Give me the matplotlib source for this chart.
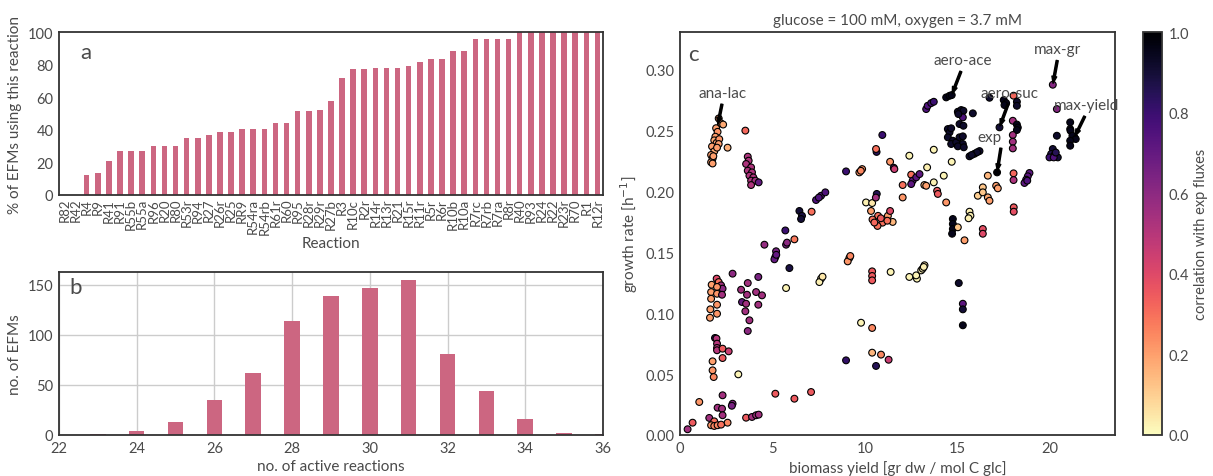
import matplotlib
matplotlib.use("Agg")
import matplotlib.pyplot as plt
import numpy as np

plt.rcParams['font.family'] = ['Lato', 'DejaVu Sans']
plt.rcParams['mathtext.fontset'] = 'dejavusans'

TXT = '#4a4a4a'
SPINE = '#333333'
BAR = '#cc6681'

# ---- panel a: fraction of EFMs using each reaction ----
reactions = ['R82', 'R42', 'R4', 'R9', 'R41', 'R91', 'R55b', 'R55a', 'R96', 'R20',
             'R80', 'R53r', 'R94', 'R27', 'R26r', 'R25', 'RR9', 'R54ra', 'R54rb',
             'R61r', 'R60', 'R95', 'R28r', 'R29r', 'R27b', 'R3', 'R10c', 'R2r',
             'R14r', 'R13r', 'R21', 'R15r', 'R11r', 'R5r', 'R6r', 'R10b', 'R10a',
             'R7rc', 'R7rb', 'R7ra', 'R8r', 'R40', 'R93', 'R24', 'R22', 'R23r',
             'R70', 'R1', 'R12r']
pct_efms = [0, 0, 12.3, 13.4, 20.8, 27.0, 27.0, 27.0, 30.2, 30.2,
            30.2, 35.1, 35.1, 37.0, 38.7, 38.7, 40.6, 40.6, 40.6,
            44.2, 44.2, 51.5, 51.5, 52.3, 57.8, 71.9, 77.4, 77.4,
            78.0, 78.0, 78.0, 79.2, 81.6, 83.6, 83.6, 88.5, 88.5,
            95.9, 95.9, 95.9, 95.9, 100, 100, 100, 100, 100,
            100, 100, 100]

# ---- panel b: histogram of EFM sizes ----
n_active = [23, 24, 25, 26, 27, 28, 29, 30, 31, 32, 33, 34, 35, 36]
n_efms = [1, 4, 13, 35, 62, 114, 139, 147, 155, 81, 44, 16, 2, 1]

# ---- panel c: yield vs growth rate, coloured by correlation ----
yield_x = [
    2.09, 2.21, 2.33, 1.95, 2.03, 1.91, 1.85, 1.98, 2.12, 2.09, 1.73, 1.85, 1.68, 1.76, 1.68, 1.76, 2.00, 1.80,
    2.57, 3.53,
    3.66, 3.71, 3.57, 3.84, 3.66, 3.89, 3.75, 3.96, 3.84, 4.07, 4.25, 3.84,
    10.93, 10.62, 10.59, 11.35, 11.55, 11.58, 8.97, 9.69, 9.84, 9.77,
    7.35, 7.62, 7.85, 7.50, 6.45, 6.59, 6.54, 7.11, 5.69,
    10.05, 10.38, 10.63, 10.58, 10.32, 10.70, 10.40, 11.23, 11.35, 11.49, 10.94, 10.67, 11.20, 10.50, 10.85,
    14.38, 14.56, 14.68, 13.30, 13.38, 13.57, 13.71,
    15.01, 15.19, 15.31, 15.28, 15.04, 15.82, 15.10, 15.31, 14.47, 14.56, 14.65, 14.47, 14.74, 14.65,
    14.92, 15.10, 15.28, 15.28, 15.01, 15.33, 15.64, 15.91, 16.18, 16.05, 15.76,
    16.72, 17.49, 17.62, 17.53, 18.02, 18.20, 18.20, 17.26,
    17.98, 18.20, 18.25, 18.20, 17.98, 17.98, 17.98,
    20.14, 20.36,
    21.08, 21.08, 21.10, 21.31, 21.20, 21.38, 21.08, 21.08, 20.36,
    20.14, 20.05, 20.23, 20.41, 19.96, 20.19, 20.30,
    17.13, 16.63, 17.08, 17.17, 16.36, 16.09, 16.36, 16.63, 16.72,
    18.02, 18.02, 18.88, 18.79, 18.70, 18.61, 18.76,
    13.71, 12.39, 14.68, 13.35, 14.25, 13.71,
    12.49, 12.03, 12.03, 13.20, 13.30, 13.89, 13.93, 14.38,
    12.57, 12.76, 12.94, 12.49,
    15.64, 15.69, 15.59, 14.74, 14.74, 14.74, 15.01, 16.36, 18.03, 18.03,
    14.70, 15.37, 16.36,
    12.39, 12.80, 12.76, 13.03, 13.11, 13.21, 13.17,
    15.06, 15.28, 15.28, 15.28,
    6.18, 5.73, 5.78, 4.56, 5.19, 5.15, 5.10, 5.20,
    9.15, 9.06, 9.20, 5.91, 10.38, 10.38, 10.38, 11.38, 7.62, 7.53, 7.70, 5.73,
    2.84, 4.23, 3.66, 3.30, 4.11, 4.43, 3.62, 3.35, 3.57, 4.23, 3.53, 3.75, 3.66,
    1.71, 1.98, 2.09, 2.22, 2.30, 2.00, 1.68, 2.00, 2.27, 1.68, 2.00, 1.64, 2.00, 1.62,
    1.89, 1.97, 2.00, 2.00, 2.00, 2.30, 2.63, 2.30,
    1.76, 1.76, 1.82, 3.15, 8.97,
    9.78, 10.38, 10.38, 10.86, 11.27, 10.59,
    5.15, 6.18, 7.08,
    1.04, 2.30, 2.84, 2.80, 2.03, 2.27, 1.58, 2.30, 1.85, 2.57, 1.68, 1.85, 2.03, 2.22,
    3.57, 3.89, 4.11, 4.25, 0.68, 0.41,
]
growth_y = [
    0.260, 0.256, 0.255, 0.252, 0.249, 0.245, 0.242, 0.240, 0.243, 0.239, 0.237, 0.233, 0.230, 0.227, 0.224, 0.223, 0.236, 0.229,
    0.236, 0.250,
    0.2286, 0.2253, 0.2226, 0.2198, 0.2171, 0.2157, 0.2130, 0.2116, 0.2089, 0.2089, 0.2075, 0.2053,
    0.2464, 0.2325, 0.2349, 0.2244, 0.2195, 0.2184, 0.2165, 0.2157, 0.2184, 0.2170,
    0.1930, 0.1965, 0.1993, 0.1950, 0.1840, 0.1800, 0.1774, 0.1834, 0.1680,
    0.1910, 0.1905, 0.1980, 0.1950, 0.1840, 0.1800, 0.1770, 0.1800, 0.1840, 0.1750, 0.1744, 0.1717, 0.1760, 0.1745, 0.1780,
    0.2773, 0.2786, 0.2792, 0.2677, 0.2704, 0.2726, 0.2737,
    0.2655, 0.2669, 0.2663, 0.2609, 0.2636, 0.2642, 0.2554, 0.2540, 0.2513, 0.2486, 0.2519, 0.2445, 0.2417, 0.2390,
    0.2404, 0.2445, 0.2453, 0.2390, 0.2371, 0.2363, 0.2289, 0.2310, 0.2332, 0.2322, 0.2300,
    0.2770, 0.2751, 0.2726, 0.2710, 0.2787, 0.2737, 0.2704, 0.2527,
    0.2581, 0.2550, 0.2525, 0.2505, 0.2464, 0.2409, 0.2354,
    0.2877, 0.2677,
    0.2568, 0.2513, 0.2499, 0.2445, 0.2458, 0.2431, 0.2417, 0.2376, 0.2458,
    0.2349, 0.2308, 0.2299, 0.2280, 0.2280, 0.2280, 0.2320,
    0.2157, 0.2130, 0.2047, 0.2026, 0.2034, 0.1965, 0.1993, 0.1952, 0.1924,
    0.2149, 0.2094, 0.2152, 0.2125, 0.2097, 0.2070, 0.2089,
    0.2343, 0.2294, 0.2244, 0.2198, 0.2130, 0.2075,
    0.2138, 0.2053, 0.1951, 0.2053, 0.2047, 0.2006, 0.1980, 0.1910,
    0.2089, 0.2116, 0.2143, 0.2061,
    0.1834, 0.1801, 0.1780, 0.1774, 0.1733, 0.1692, 0.1706, 0.1692, 0.1870, 0.1834,
    0.1653, 0.1599, 0.1653,
    0.1298, 0.1284, 0.1311, 0.1352, 0.1366, 0.1394, 0.1380,
    0.1248, 0.1078, 0.1032, 0.0901,
    0.1607, 0.1563, 0.1580, 0.1563, 0.1509, 0.1462, 0.1443, 0.1480,
    0.1454, 0.1426, 0.1470, 0.1371, 0.1344, 0.1306, 0.1270, 0.1339, 0.1284, 0.1256, 0.1300, 0.1207,
    0.1325, 0.1298, 0.1248, 0.1193, 0.1174, 0.1147, 0.1152, 0.1092, 0.1078, 0.1070, 0.1016, 0.0942, 0.0854,
    0.1234, 0.1284, 0.1256, 0.1229, 0.1202, 0.1216, 0.1174, 0.1160, 0.1152, 0.1119, 0.1070, 0.1032, 0.0996, 0.0963,
    0.0797, 0.0792, 0.0750, 0.0715, 0.0696, 0.0709, 0.0687, 0.0632,
    0.0605, 0.0531, 0.0476, 0.0498, 0.0613,
    0.0922, 0.0879, 0.0676, 0.0660, 0.0618, 0.0567,
    0.0339, 0.0298, 0.0353,
    0.0271, 0.0326, 0.0257, 0.0240, 0.0224, 0.0216, 0.0140, 0.0162, 0.0112, 0.0101, 0.0080, 0.0074, 0.0080, 0.0085,
    0.0142, 0.0148, 0.0162, 0.0167, 0.0101, 0.0047,
]
correlation = [
    0.22, 0.20, 0.18, 0.20, 0.22, 0.20, 0.18, 0.20, 0.22, 0.20, 0.20, 0.18, 0.20, 0.20, 0.20, 0.20, 0.20, 0.20,
    0.17, 0.32,
    0.52, 0.52, 0.52, 0.52, 0.52, 0.52, 0.52, 0.52, 0.52, 0.55, 0.70, 0.52,
    0.80, 0.85, 0.30, 0.22, 0.70, 0.45, 0.80, 0.22, 0.22, 0.25,
    0.75, 0.75, 0.75, 0.75, 0.90, 0.88, 0.90, 0.30, 0.80,
    0.03, 0.05, 0.85, 0.55, 0.20, 0.30, 0.30, 0.20, 0.40, 0.15, 0.30, 0.30, 0.30, 0.32, 0.35,
    0.95, 0.95, 0.95, 0.75, 0.75, 0.78, 0.80,
    0.92, 0.92, 0.92, 0.75, 0.92, 0.92, 0.92, 0.92, 0.92, 0.92, 0.92, 0.92, 0.92, 0.92,
    0.92, 0.92, 0.92, 0.92, 0.92, 0.92, 0.92, 0.92, 0.92, 0.92, 0.92,
    0.92, 0.95, 0.95, 0.95, 0.32, 0.92, 0.92, 0.90,
    0.55, 0.95, 0.95, 0.95, 0.55, 0.55, 0.55,
    0.62, 0.62,
    0.95, 0.95, 0.95, 0.95, 0.95, 0.95, 0.95, 0.95, 0.92,
    0.90, 0.85, 0.75, 0.90, 0.80, 0.75, 0.85,
    1.00, 0.15, 0.20, 0.20, 0.12, 0.10, 0.12, 0.18, 0.20,
    0.32, 0.52, 0.72, 0.72, 0.72, 0.72, 0.75,
    0.02, 0.02, 0.02, 0.03, 0.02, 0.03,
    0.30, 0.30, 0.22, 0.15, 0.20, 0.35, 0.35, 0.22,
    0.72, 0.72, 0.72, 0.72,
    0.03, 0.03, 0.03, 0.95, 0.95, 0.95, 0.12, 0.38, 0.35, 0.38,
    0.95, 0.20, 0.40,
    0.02, 0.02, 0.02, 0.03, 0.03, 0.05, 0.03,
    0.92, 0.72, 0.90, 0.95,
    0.28, 0.65, 0.60, 0.58, 0.65, 0.65, 0.70, 0.70,
    0.20, 0.22, 0.25, 0.88, 0.35, 0.35, 0.35, 0.02, 0.03, 0.03, 0.05, 0.02,
    0.60, 0.65, 0.55, 0.55, 0.55, 0.55, 0.55, 0.70, 0.55, 0.55, 0.55, 0.55, 0.60,
    0.20, 0.40, 0.30, 0.55, 0.60, 0.22, 0.20, 0.22, 0.55, 0.20, 0.22, 0.20, 0.22, 0.20,
    0.85, 0.50, 0.50, 0.50, 0.50, 0.35, 0.45, 0.35,
    0.20, 0.22, 0.25, 0.02, 0.82,
    0.02, 0.25, 0.15, 0.25, 0.45, 0.85,
    0.35, 0.35, 0.35,
    0.22, 0.55, 0.62, 0.65, 0.55, 0.55, 0.55, 0.55, 0.30, 0.25, 0.22, 0.25, 0.25, 0.30,
    0.35, 0.55, 0.55, 0.55, 0.35, 0.55,
]

# named EFMs: label, point (yield, growth), label position
efm_labels = ['ana-lac', 'aero-ace', 'aero-suc', 'exp', 'max-gr', 'max-yield']
efm_points = [(2.03, 0.254), (14.68, 0.2792), (17.26, 0.2527), (17.13, 0.2157), (20.14, 0.2877), (21.31, 0.2445)]
efm_text = [(2.31, 0.275), (15.26, 0.302), (17.8, 0.275), (16.72, 0.239), (20.42, 0.311), (21.97, 0.265)]


def style_axes(ax):
    for s in ax.spines.values():
        s.set_color(SPINE)
        s.set_linewidth(1.3)
    ax.tick_params(length=0, colors=TXT, labelsize=10.5, pad=4)


fig = plt.figure(figsize=(12.13, 4.77), dpi=100)

# panel a
ax_a = fig.add_axes([0.0486, 0.5891, 0.4485, 0.3417])
pos = np.arange(len(reactions))
ax_a.bar(pos, pct_efms, width=0.5, color=BAR)
ax_a.set_xlim(-0.5, len(reactions) - 0.5)
ax_a.set_ylim(0, 100)
ax_a.set_xticks(pos)
ax_a.set_xticklabels(reactions, rotation=90)
style_axes(ax_a)
ax_a.tick_params(axis='x', labelsize=9.5, pad=2)
ax_a.set_ylabel('% of EFMs using this reaction', color=TXT, fontsize=11)
ax_a.set_xlabel('Reaction', color=TXT, fontsize=11, labelpad=2)
ax_a.text(0.05, 0.88, 'a', transform=ax_a.transAxes, fontsize=16, color=TXT,
          ha='center', va='center')

# panel b
ax_b = fig.add_axes([0.0486, 0.0860, 0.4485, 0.3417])
ax_b.bar(n_active, n_efms, width=0.4, color=BAR, zorder=2)
ax_b.set_xlim(22, 36)
ax_b.set_ylim(0, 163)
ax_b.set_xticks(range(22, 37, 2))
ax_b.set_yticks([0, 50, 100, 150])
ax_b.grid(True, color='#cccccc', linewidth=1.0, zorder=0)
ax_b.set_axisbelow(True)
style_axes(ax_b)
ax_b.set_ylabel('no. of EFMs', color=TXT, fontsize=11)
ax_b.set_xlabel('no. of active reactions', color=TXT, fontsize=11, labelpad=3)
ax_b.text(0.03, 0.91, 'b', transform=ax_b.transAxes, fontsize=16, color=TXT,
          ha='center', va='center')

# panel c
ax_c = fig.add_axes([0.5606, 0.0860, 0.3586, 0.8448])
sc = ax_c.scatter(yield_x, growth_y, c=correlation, cmap='magma_r', vmin=0, vmax=1,
                  s=24, edgecolors='black', linewidths=0.8, zorder=2)
ax_c.set_xlim(0, 23.5)
ax_c.set_ylim(0, 0.331)
ax_c.set_xticks([0, 5, 10, 15, 20])
ax_c.set_yticks([0, 0.05, 0.10, 0.15, 0.20, 0.25, 0.30])
ax_c.set_yticklabels(['0.00', '0.05', '0.10', '0.15', '0.20', '0.25', '0.30'])
style_axes(ax_c)
ax_c.set_xlabel('biomass yield [gr dw / mol C glc]', color=TXT, fontsize=11)
ax_c.set_ylabel('growth rate [h$^{-1}$]', color=TXT, fontsize=11)
ax_c.set_title('glucose = 100 mM, oxygen = 3.7 mM', color=TXT, fontsize=11, pad=6)
ax_c.text(0.032, 0.945, 'c', transform=ax_c.transAxes, fontsize=16, color=TXT,
          ha='center', va='center')

for lab, pt, tp in zip(efm_labels, efm_points, efm_text):
    ax_c.annotate(lab, xy=pt, xytext=tp, ha='center', va='bottom',
                  fontsize=11, color=TXT, zorder=3,
                  arrowprops=dict(facecolor='black', edgecolor='black',
                                  shrink=0.05, width=1.5, headwidth=3.5,
                                  headlength=5))

# colour bar
cax = fig.add_axes([0.9423, 0.0860, 0.0157, 0.8448])
cb = fig.colorbar(sc, cax=cax)
cb.set_ticks([0, 0.2, 0.4, 0.6, 0.8, 1.0])
cb.outline.set_edgecolor(SPINE)
cb.outline.set_linewidth(1.3)
cax.tick_params(length=0, colors=TXT, labelsize=10.5, pad=5)
cb.set_label('correlation with exp fluxes', color=TXT, fontsize=10.5, labelpad=3)

fig.savefig('out.png', dpi=100)
